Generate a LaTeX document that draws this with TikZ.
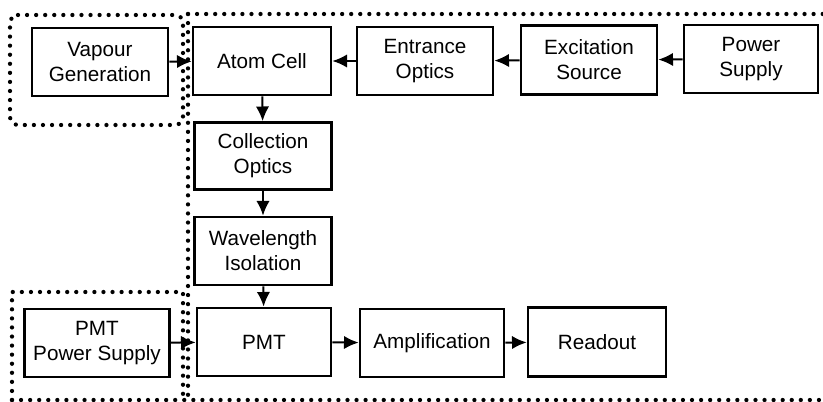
\documentclass[tikz,border=0pt]{standalone}
\usepackage{fontspec}
\setmainfont{Liberation Sans}
\usetikzlibrary{arrows.meta}
\begin{document}
\begin{tikzpicture}[x=0.75pt,y=-0.75pt,
  box/.style={draw,line width=2pt,align=center,inner sep=0pt,
    font=\fontsize{15.5pt}{18.8pt}\selectfont},
  bw/.style={minimum width=#1*0.75pt},
  bh/.style={minimum height=#1*0.75pt},
  arr/.style={line width=1.5pt,-{Latex[length=11pt,width=10pt]}},
  dots/.style={line width=3.2pt,dash pattern=on 0pt off 6.8pt,line cap=round}]
\useasboundingbox (0,0) rectangle (823,402);
\node[box,bw=136,bh=68] (vap) at (100,62) {Vapour\\Generation};
\node[box,bw=138,bh=68] (atom) at (262,61) {Atom Cell};
\node[box,bw=136,bh=68] (ent) at (425,61) {Entrance\\Optics};
\node[box,bw=136,bh=69] (exc) at (589,60) {Excitation\\Source};
\node[box,bw=134,bh=68] (pow) at (751,59) {Power\\Supply};
\node[box,bw=137,bh=67] (col) at (263,156) {Collection\\Optics};
\node[box,bw=137,bh=68] (wav) at (263,251) {Wavelength\\Isolation};
\node[box,bw=134,bh=68] (pmt) at (264,342) {PMT};
\node[box,bw=145,bh=68] (pps) at (97,343) {PMT\\Power Supply};
\node[box,bw=144,bh=68] (amp) at (432,343) {Amplification};
\node[box,bw=138,bh=69] (read) at (597,342) {Readout};
\draw[arr] (vap) -- (atom);
\draw[arr] (ent) -- (atom);
\draw[arr] (exc) -- (ent);
\draw[arr] (pow) -- (exc);
\draw[arr] (atom) -- (col);
\draw[arr] (col) -- (wav);
\draw[arr] (wav) -- (pmt);
\draw[arr] (pps) -- (pmt);
\draw[arr] (pmt) -- (amp);
\draw[arr] (amp) -- (read);
% dotted regions
\draw[dots,rounded corners=6pt] (10,15) -- (183,15) -- (183,125) -- (10,125) -- cycle;
\draw[dots] (188,14) -- (823,14);
\draw[dots] (188,14) -- (188,400);
\draw[dots] (12,400) -- (823,400);
\draw[dots] (12,400) -- (12,292) -- (183,292) -- (183,400);
\end{tikzpicture}
\end{document}
